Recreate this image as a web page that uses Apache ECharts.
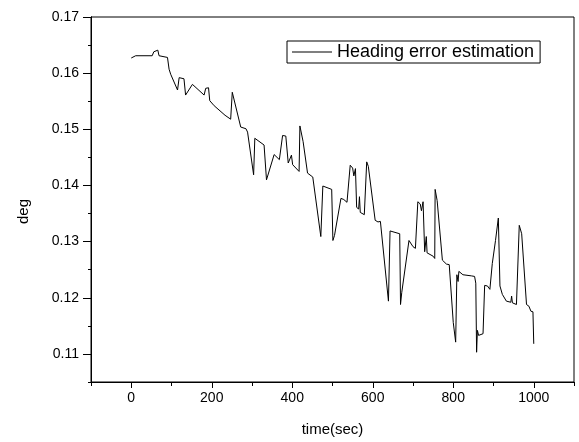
<!DOCTYPE html>
<html>
<head>
<meta charset="utf-8">
<script src="https://cdn.jsdelivr.net/npm/echarts@6/dist/echarts.min.js"></script>
<style>html,body{margin:0;padding:0;background:#fff}#c{width:579px;height:442px}</style>
</head>
<body>
<div id="c"></div>
<script>
const times = [0,11,52,56,66,69,90,94,98,115,119,131,135,152,181,185,192,195,206,233,247,251,272,285,289,304,307,330,336,355,368,376,384,390,398,401,417,419,427,438,451,453,471,476,498,501,505,521,528,536,544,550,553,557,560,565,567,569,579,583,585,589,606,613,619,639,643,667,669,672,690,700,706,712,718,721,725,729,733,735,750,754,755,760,773,783,790,800,806,809,812,814,824,845,853,856,858,860,863,874,878,885,891,897,905,912,916,922,932,943,945,947,957,961,964,970,982,988,993,998,1000];
const values = [0.1627,0.1631,0.1631,0.1638,0.1641,0.1631,0.1628,0.1607,0.1598,0.1570,0.1592,0.1590,0.1561,0.1580,0.1561,0.1573,0.1574,0.1551,0.1542,0.1525,0.1518,0.1566,0.1504,0.1501,0.1495,0.1419,0.1484,0.1472,0.1410,0.1455,0.1446,0.1489,0.1488,0.1440,0.1454,0.1437,0.1425,0.1506,0.1478,0.1422,0.1415,0.1414,0.1309,0.1399,0.1393,0.1302,0.1311,0.1377,0.1375,0.1370,0.1436,0.1431,0.1417,0.1430,0.1361,0.1358,0.1380,0.1352,0.1348,0.1345,0.1442,0.1434,0.1338,0.1335,0.1336,0.1194,0.1319,0.1314,0.1188,0.1209,0.1302,0.1291,0.1288,0.1371,0.1367,0.1355,0.1371,0.1282,0.1309,0.1280,0.1274,0.1270,0.1393,0.1373,0.1267,0.1260,0.1259,0.1156,0.1121,0.1241,0.1229,0.1247,0.1241,0.1239,0.1238,0.1226,0.1103,0.1142,0.1133,0.1136,0.1222,0.1221,0.1215,0.1261,0.1302,0.1342,0.1221,0.1206,0.1194,0.1192,0.1203,0.1191,0.1188,0.1188,0.1329,0.1314,0.1188,0.1185,0.1176,0.1175,0.1118];
const xMajor = [0,200,400,600,800,1000];
const xMinor = [-100,100,300,500,700,900,1100];
const yMajor = [0.11,0.12,0.13,0.14,0.15,0.16,0.17];
const yMinor = [0.105,0.115,0.125,0.135,0.145,0.155,0.165];
const seriesName = 'Heading error estimation';

const chart = echarts.init(document.getElementById('c'), null, {renderer:'canvas'});
const font = 'Liberation Sans, Arial, sans-serif';
const axisCommon = {
  axisLine:{show:true, onZero:false, lineStyle:{color:'#000', width:1}},
  splitLine:{show:false}
};
chart.setOption({
  animation:false,
  backgroundColor:'#fff',
  grid:{left:91, top:17, right:5, bottom:55, show:true, borderColor:'#000', borderWidth:1, backgroundColor:'transparent'},
  legend:{
    show:true, left:287, top:41, orient:'horizontal',
    data:[{name:seriesName, icon:'rect'}],
    backgroundColor:'#fff', borderColor:'#000', borderWidth:1,
    padding:[2,6,2,5], itemWidth:40, itemHeight:1, itemGap:4,
    textStyle:{fontFamily:font, fontSize:18, color:'#000'}
  },
  xAxis:[
    Object.assign({type:'value', min:-100, max:1100, position:'bottom',
      name:'time(sec)', nameLocation:'middle', nameGap:40,
      nameTextStyle:{fontFamily:font, fontSize:15, color:'#000'},
      axisTick:{show:true, inside:false, length:6, customValues:xMajor, lineStyle:{color:'#000'}},
      axisLabel:{show:true, margin:9, customValues:xMajor, fontFamily:font, fontSize:14, color:'#000',
        formatter:v=>String(v)}
    }, axisCommon),
    Object.assign({type:'value', min:-100, max:1100, position:'bottom', offset:0,
      axisTick:{show:true, inside:false, length:4, customValues:xMinor, lineStyle:{color:'#000'}},
      axisLabel:{show:false}
    }, axisCommon)
  ],
  yAxis:[
    Object.assign({type:'value', min:0.105, max:0.17, position:'left',
      name:'deg', nameLocation:'middle', nameGap:60, nameRotate:90,
      nameTextStyle:{fontFamily:font, fontSize:15, color:'#000', padding:[0,24,0,0]},
      axisTick:{show:true, inside:false, length:8, customValues:yMajor, lineStyle:{color:'#000'}},
      axisLabel:{show:true, margin:12, customValues:yMajor, fontFamily:font, fontSize:14, color:'#000',
        formatter:v=>v.toFixed(2)}
    }, axisCommon),
    Object.assign({type:'value', min:0.105, max:0.17, position:'left', offset:0,
      axisTick:{show:true, inside:false, length:3, customValues:yMinor, lineStyle:{color:'#000'}},
      axisLabel:{show:false}
    }, axisCommon)
  ],
  series:[{
    name:seriesName, type:'line', symbol:'none', showSymbol:false,
    lineStyle:{color:'#000', width:1}, itemStyle:{color:'#000'},
    data: times.map((t,i)=>[t, values[i]])
  }]
});
</script>
</body>
</html>
